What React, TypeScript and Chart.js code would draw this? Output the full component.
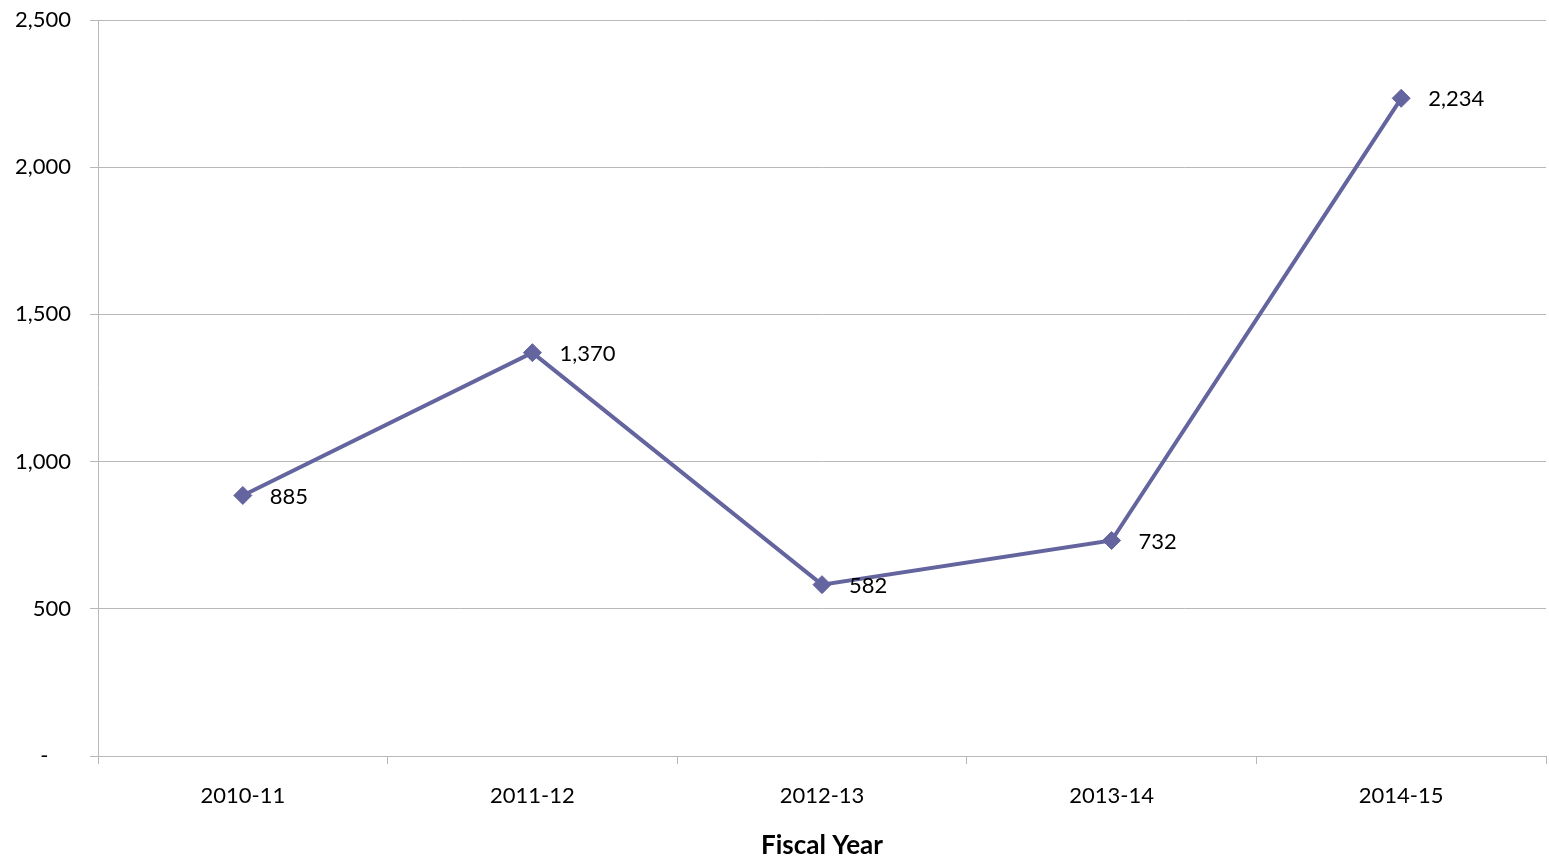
import React, { useEffect, useRef } from "react";
import { Chart, registerables } from "chart.js";

Chart.register(...registerables);

const categories: string[] = ["2010-11", "2011-12", "2012-13", "2013-14", "2014-15"];
const values: number[] = [885, 1370, 582, 732, 2234];
const yTickValues: number[] = [0, 500, 1000, 1500, 2000, 2500];
const xAxisTitle = "Fiscal Year";

const LINE_COLOR = "#64649F";
const GRID_COLOR = "#B8B8B8";
const FONT = "Lato, 'Open Sans', sans-serif";

const fmt = (v: number) => v.toLocaleString("en-US");

const dataLabelPlugin = {
  id: "dataLabels",
  afterDatasetsDraw(chart: any) {
    const ctx = chart.ctx;
    const meta = chart.getDatasetMeta(0);
    ctx.save();
    ctx.font = `22px ${FONT}`;
    ctx.fillStyle = "#000";
    ctx.textAlign = "left";
    ctx.textBaseline = "middle";
    meta.data.forEach((pt: any, i: number) => {
      ctx.fillText(fmt(values[i]), pt.x + 27, pt.y + 1);
    });
    ctx.restore();
  },
};

export default function App() {
  const ref = useRef<HTMLCanvasElement | null>(null);
  useEffect(() => {
    document.body.style.margin = "0";
    if (!ref.current) return;
    const chart = new Chart(ref.current, {
      type: "line",
      data: {
        labels: categories,
        datasets: [
          {
            data: values,
            borderColor: LINE_COLOR,
            backgroundColor: LINE_COLOR,
            borderWidth: 4,
            pointStyle: "rectRot",
            pointRadius: 9,
            pointBorderWidth: 1,
            pointBackgroundColor: LINE_COLOR,
            pointBorderColor: LINE_COLOR,
            tension: 0,
          },
        ],
      },
      options: {
        animation: false,
        responsive: false,
        maintainAspectRatio: false,
        layout: { autoPadding: false, padding: { top: 20, right: 3, bottom: 0, left: 0 } },
        plugins: {
          legend: { display: false },
          tooltip: { enabled: false },
        },
        scales: {
          x: {
            type: "category",
            offset: true,
            grid: {
              offset: true,
              drawOnChartArea: false,
              drawTicks: true,
              tickLength: 8,
              color: GRID_COLOR,
            },
            border: { color: GRID_COLOR, width: 1 },
            ticks: {
              color: "#000",
              padding: 19,
              font: { family: FONT, size: 22 },
              maxRotation: 0,
            },
            title: {
              display: true,
              text: xAxisTitle,
              color: "#000",
              font: { family: FONT, size: 26, weight: "bold" },
              padding: { top: 0, bottom: 1 },
            },
            afterFit(scale: any) {
              scale.height = 106;
              scale.paddingLeft = 0;
              scale.paddingRight = 0;
            },
          },
          y: {
            min: 0,
            max: 2500,
            afterBuildTicks(scale: any) {
              scale.ticks = yTickValues.map((v) => ({ value: v }));
            },
            grid: {
              color: GRID_COLOR,
              drawTicks: true,
              tickLength: 8,
            },
            border: { color: GRID_COLOR, width: 1 },
            ticks: {
              color: "#000",
              padding: 19,
              font: { family: FONT, size: 22 },
              callback: (v: any) => (Number(v) === 0 ? "-    " : fmt(Number(v))),
            },
            afterFit(scale: any) {
              scale.width = 98;
              scale.paddingTop = 0;
              scale.paddingBottom = 0;
            },
          },
        },
      },
      plugins: [dataLabelPlugin],
    });
    return () => chart.destroy();
  }, []);
  return (
    <div style={{ width: 1549, height: 862, background: "#fff" }}>
      <canvas ref={ref} width={1549} height={862} style={{ display: "block" }} />
    </div>
  );
}
